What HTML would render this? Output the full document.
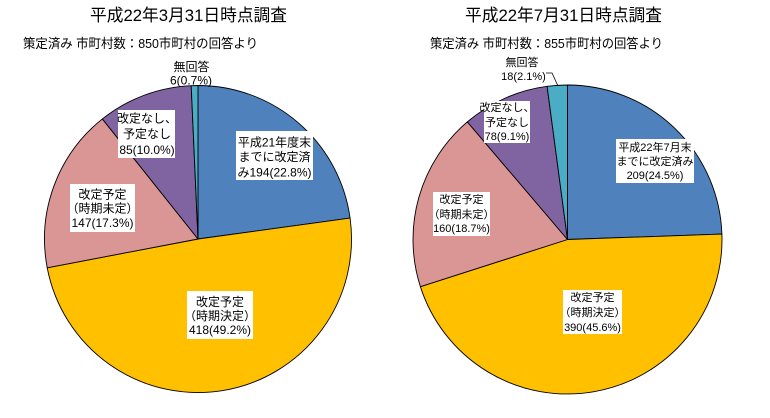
<!DOCTYPE html>
<html><head><meta charset="utf-8"><style>
html,body{margin:0;padding:0;background:#fff;}
svg{display:block;}
text{font-family:"Liberation Sans","Noto Sans CJK JP",sans-serif;fill:#000;}
</style></head><body>
<svg width="770" height="418" viewBox="0 0 770 418" xmlns="http://www.w3.org/2000/svg">
<rect width="770" height="418" fill="#fff"/>
<!-- Titles -->
<text x="188.5" y="21" font-size="17" text-anchor="middle" textLength="197" lengthAdjust="spacingAndGlyphs">平成22年3月31日時点調査</text>
<text x="23" y="48" font-size="13" textLength="235" lengthAdjust="spacingAndGlyphs">策定済み 市町村数：850市町村の回答より</text>
<text x="563.5" y="21" font-size="17" text-anchor="middle" textLength="197" lengthAdjust="spacingAndGlyphs">平成22年7月31日時点調査</text>
<text x="430" y="48" font-size="13" textLength="233" lengthAdjust="spacingAndGlyphs">策定済み 市町村数：855市町村の回答より</text>

<!-- Left pie -->
<g stroke="#000" stroke-width="0.9" stroke-linejoin="round">
<path d="M198,239 L198,85.5 A153.5,153.5 0 0 1 350.07,218.06 Z" fill="#4F81BD"/>
<path d="M198,239 L350.07,218.06 A153.5,153.5 0 0 1 47.22,267.76 Z" fill="#FFC000"/>
<path d="M198,239 L47.22,267.76 A153.5,153.5 0 0 1 102.36,118.93 Z" fill="#D99694"/>
<path d="M198,239 L102.36,118.93 A153.5,153.5 0 0 1 191.2,85.65 Z" fill="#8064A2"/>
<path d="M198,239 L191.2,85.65 A153.5,153.5 0 0 1 198,85.5 Z" fill="#4BACC6"/>
</g>
<!-- Right pie -->
<g stroke="#000" stroke-width="0.9" stroke-linejoin="round">
<path d="M567.5,239.5 L567.5,85 A154.5,154.5 0 0 1 721.9,234.1 Z" fill="#4F81BD"/>
<path d="M567.5,239.5 L721.9,234.1 A154.5,154.5 0 0 1 420.39,286.7 Z" fill="#FFC000"/>
<path d="M567.5,239.5 L420.39,286.7 A154.5,154.5 0 0 1 467.35,121.86 Z" fill="#D99694"/>
<path d="M567.5,239.5 L467.35,121.86 A154.5,154.5 0 0 1 547.12,86.35 Z" fill="#8064A2"/>
<path d="M567.5,239.5 L547.12,86.35 A154.5,154.5 0 0 1 567.5,85 Z" fill="#4BACC6"/>
</g>

<!-- Left labels -->
<g font-size="12" text-anchor="middle">
<text x="191.5" y="71">無回答</text>
<text x="191" y="84.5">6(0.7%)</text>

<rect x="118" y="110" width="57" height="48" fill="#fff"/>
<text x="147" y="122.5">改定なし、</text>
<text x="147" y="138">予定なし</text>
<text x="147" y="154">85(10.0%)</text>

<rect x="236" y="131" width="77" height="49" fill="#fff"/>
<text x="274.5" y="146.5">平成21年度末</text>
<text x="274.5" y="161">までに改定済</text>
<text x="274.5" y="176.5">み194(22.8%)</text>

<rect x="70" y="184" width="65" height="48" fill="#fff"/>
<text x="102.5" y="198.5">改定予定</text>
<text x="102.5" y="212.5">（時期未定）</text>
<text x="102.5" y="227">147(17.3%)</text>

<rect x="187" y="291" width="66" height="48" fill="#fff"/>
<text x="220" y="306">改定予定</text>
<text x="220" y="320">（時期決定）</text>
<text x="220" y="334">418(49.2%)</text>
</g>

<!-- Right labels -->
<g font-size="11" text-anchor="middle">
<text x="522" y="66">無回答</text>
<text x="523.5" y="80">18(2.1%)</text>
<polyline points="546,73 552,73 558,86" fill="none" stroke="#000" stroke-width="0.8"/>

<rect x="484" y="101" width="46" height="42" fill="#fff"/>
<text x="507" y="111">改定なし、</text>
<text x="507" y="126">予定なし</text>
<text x="507" y="140">78(9.1%)</text>

<rect x="616" y="139" width="78" height="44" fill="#fff"/>
<text x="655" y="151">平成22年7月末</text>
<text x="655" y="165">までに改定済み</text>
<text x="655" y="179">209(24.5%)</text>

<rect x="433" y="192" width="57" height="44" fill="#fff"/>
<text x="461.5" y="203">改定予定</text>
<text x="461.5" y="218">（時期未定）</text>
<text x="461.5" y="232">160(18.7%)</text>

<rect x="563" y="290" width="59" height="44" fill="#fff"/>
<text x="592.5" y="301">改定予定</text>
<text x="592.5" y="316">（時期決定）</text>
<text x="592.5" y="331">390(45.6%)</text>
</g>
</svg>
</body></html>
